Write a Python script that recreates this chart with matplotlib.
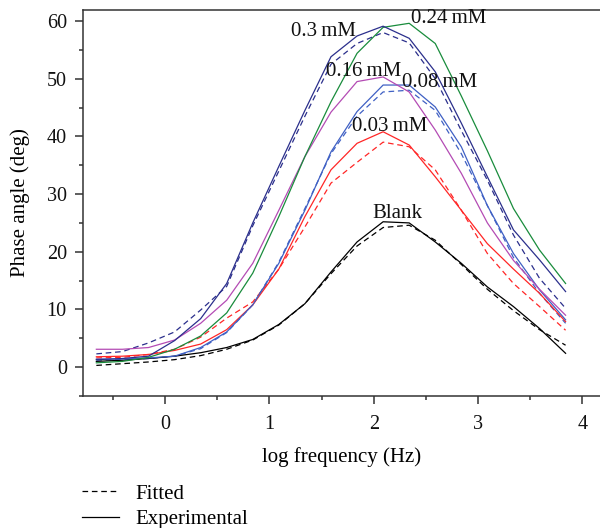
import matplotlib
matplotlib.use("Agg")
import matplotlib.pyplot as plt
from matplotlib.lines import Line2D
from matplotlib.ticker import MultipleLocator

plt.rcParams['font.family'] = ['Liberation Serif', 'DejaVu Serif']

# log frequency (Hz)
log_f = [-0.66, -0.41, -0.16, 0.09, 0.34, 0.59, 0.84, 1.09, 1.34, 1.59,
         1.84, 2.09, 2.34, 2.59, 2.84, 3.09, 3.34, 3.59, 3.84]

# experimental phase angle (deg)
blank_exp = [1.0, 1.2, 1.5, 1.9, 2.5, 3.4, 4.8, 7.4, 11.0, 16.5,
             21.7, 25.2, 25.0, 21.7, 18.0, 13.9, 10.5, 6.7, 2.4]
c003_exp = [1.8, 1.9, 2.2, 2.9, 4.0, 6.5, 10.8, 17.0, 26.1, 34.2,
            38.8, 40.8, 38.5, 33.0, 27.2, 21.4, 17.0, 12.8, 7.9]
c008_exp = [1.4, 1.4, 1.6, 1.9, 3.4, 6.1, 10.8, 18.0, 27.2, 37.3,
            44.3, 48.9, 48.9, 45.1, 38.2, 28.0, 19.7, 13.4, 8.2]
c016_exp = [3.1, 3.1, 3.4, 4.7, 7.6, 11.6, 18.0, 27.2, 36.5, 44.2,
            49.5, 50.3, 47.7, 41.1, 33.6, 25.0, 18.5, 13.5, 9.0]
c024_exp = [0.75, 1.0, 1.7, 3.1, 5.4, 9.4, 16.3, 26.1, 36.5, 46.0,
            54.4, 58.9, 59.6, 56.1, 47.0, 37.5, 27.5, 20.3, 14.5]
c030_exp = [1.3, 1.5, 1.9, 4.6, 8.4, 14.5, 25.0, 34.8, 44.5, 53.8,
            57.4, 59.1, 57.0, 51.2, 42.3, 33.0, 23.8, 18.6, 13.1]

# fitted phase angle (deg)
blank_fit = [0.3, 0.6, 0.9, 1.3, 2.0, 3.1, 4.7, 7.3, 11.0, 16.2,
             21.0, 24.2, 24.6, 22.0, 17.8, 13.5, 9.8, 6.5, 3.8]
c003_fit = [1.6, 1.7, 2.2, 3.1, 5.2, 8.5, 11.3, 17.0, 24.3, 31.9,
            35.5, 39.0, 38.2, 34.2, 27.2, 19.7, 14.5, 10.5, 6.4]
c008_fit = [1.2, 1.3, 1.5, 1.9, 3.2, 6.0, 10.8, 18.2, 27.5, 37.0,
            43.5, 47.7, 48.0, 44.5, 37.0, 28.0, 19.0, 12.8, 7.6]
c030_fit = [2.3, 2.7, 4.2, 6.1, 9.9, 14.0, 24.5, 34.0, 43.5, 52.5,
            56.1, 58.0, 56.2, 50.0, 41.0, 32.4, 22.9, 15.4, 10.2]

labels = ['Blank', '0.03\u2009mM', '0.08\u2009mM', '0.16\u2009mM', '0.24\u2009mM', '0.3\u2009mM']
label_pos = [(1.99, 26.7), (1.79, 41.7), (2.27, 49.3), (1.545, 51.3), (2.36, 60.5), (1.205, 58.1)]

colores = {'blank': 'black', '0.03': '#ff2626', '0.08': '#3f60c4',
           '0.16': '#b44bb4', '0.24': '#198c3c', '0.3': '#2b2f8c'}


def main():
    fig = plt.figure(figsize=(6, 5.28), dpi=100)
    ax = fig.add_axes([0.138, 0.25, 0.862, 0.731])

    lw = 0.9
    dash = (0, (4.5, 3))
    ax.plot(log_f, blank_fit, color=colores['blank'], lw=lw, linestyle=dash)
    ax.plot(log_f, c003_fit, color=colores['0.03'], lw=lw, linestyle=dash)
    ax.plot(log_f, c008_fit, color=colores['0.08'], lw=lw, linestyle=dash)
    ax.plot(log_f, c030_fit, color=colores['0.3'], lw=lw, linestyle=dash)

    ax.plot(log_f, blank_exp, color=colores['blank'], lw=lw)
    ax.plot(log_f, c003_exp, color=colores['0.03'], lw=lw)
    ax.plot(log_f, c008_exp, color=colores['0.08'], lw=lw)
    ax.plot(log_f, c016_exp, color=colores['0.16'], lw=lw)
    ax.plot(log_f, c024_exp, color=colores['0.24'], lw=lw)
    ax.plot(log_f, c030_exp, color=colores['0.3'], lw=lw)

    for texto, (x, y) in zip(labels, label_pos):
        ax.text(x, y, texto, fontsize=15, ha='left', va='center', color='#111111')

    ax.set_xlim(-0.79, 4.17)
    ax.set_ylim(-5.0, 61.9)
    ax.xaxis.set_major_locator(MultipleLocator(1))
    ax.xaxis.set_minor_locator(MultipleLocator(0.5))
    ax.yaxis.set_major_locator(MultipleLocator(10))
    ax.yaxis.set_minor_locator(MultipleLocator(5))

    ax.tick_params(which='both', direction='out', colors='#333333', labelcolor='#111111',
                   width=1.1, labelsize=14.5, top=False, right=False)
    ax.tick_params(which='major', length=5.5)
    ax.tick_params(which='minor', length=3)
    ax.tick_params(axis='x', pad=8.5)
    ax.tick_params(axis='y', pad=6)

    ax.spines['right'].set_visible(False)
    for s in ['left', 'bottom', 'top']:
        ax.spines[s].set_linewidth(1.1)
        ax.spines[s].set_color('#333333')

    ax.set_xlabel('log frequency (Hz)', fontsize=15, labelpad=9)
    ax.set_ylabel('Phase angle (deg)', fontsize=15, labelpad=12)

    handles = [Line2D([], [], color='black', lw=lw, linestyle=dash),
               Line2D([], [], color='black', lw=lw)]
    fig.legend(handles, ['Fitted', 'Experimental'], loc='upper left',
               bbox_to_anchor=(0.137, 0.083), frameon=False, fontsize=15,
               handlelength=1.75, handletextpad=0.8, labelspacing=0.27,
               borderaxespad=0, borderpad=0)

    fig.savefig('out.png', dpi=100)


if __name__ == "__main__":
    main()
